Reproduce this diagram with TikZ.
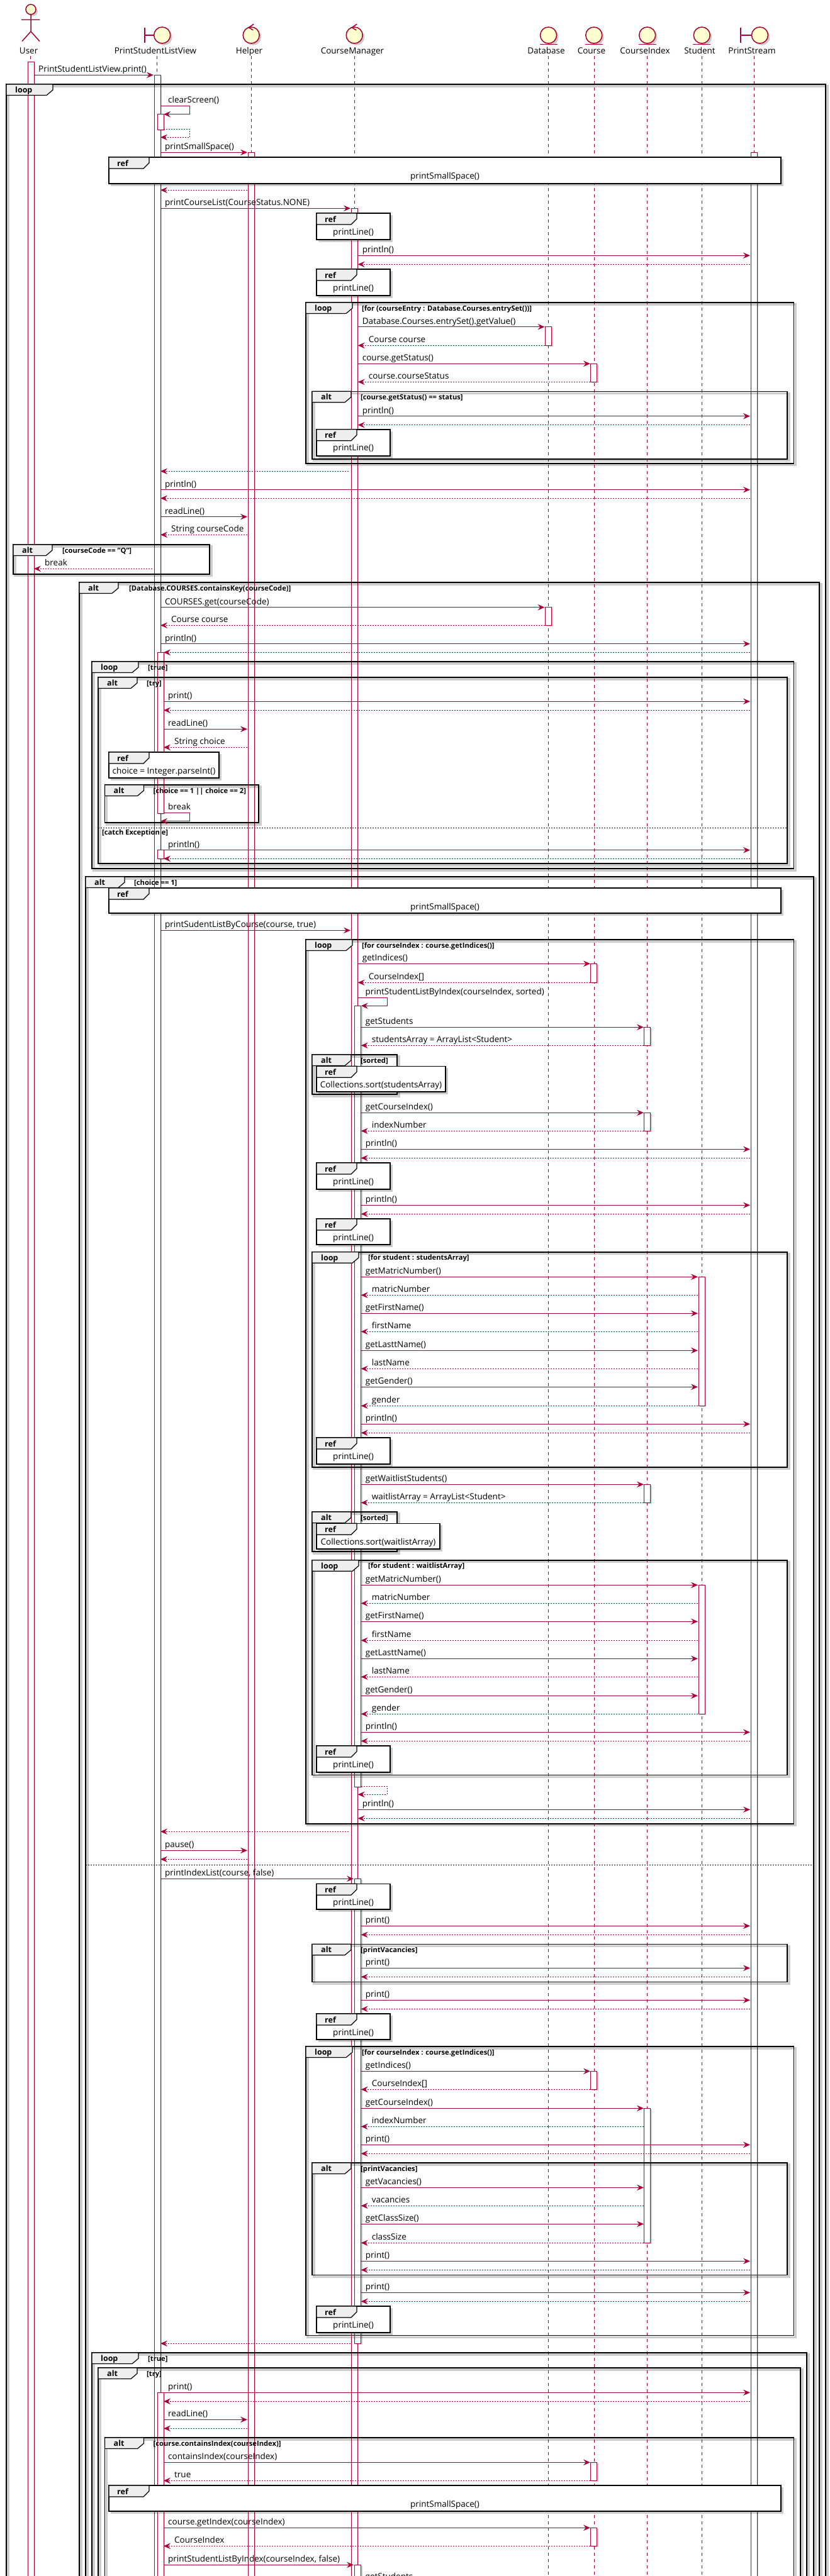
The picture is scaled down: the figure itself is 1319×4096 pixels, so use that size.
\documentclass[tikz,border=0pt]{standalone}
\usepackage{fontspec}
\setmainfont{Open Sans}
\usepackage{xcolor}
\usepackage{tikz}
\usetikzlibrary{arrows.meta, positioning}
\definecolor{seqline}{HTML}{A80036}
\definecolor{seqfill}{HTML}{FEFECE}
\definecolor{tabfill}{HTML}{EEEEEE}
\newcommand{\xu}{54}
\newcommand{\xv}{255}
\newcommand{\xvn}{260}
\newcommand{\xh}{393}
\newcommand{\xcl}{557}
\newcommand{\xcln}{562}
\newcommand{\xcm}{568.7}
\newcommand{\xcn}{573.7}
\newcommand{\xdb}{865.5}
\newcommand{\xco}{938}
\newcommand{\xci}{1023}
\newcommand{\xst}{1109}
\newcommand{\xps}{1192}
\newcounter{msgno}
\newcounter{barno}
\newcounter{frameno}
\newcommand{\callmsg}[4]{\stepcounter{msgno}%
  \coordinate (m\arabic{msgno}a) at (#1,#3);%
  \coordinate (m\arabic{msgno}b) at (#2,#3);%
  \draw[callarr] (m\arabic{msgno}a) -- (m\arabic{msgno}b);%
  \node[msglabel] (m\arabic{msgno}t) at (#1+7,#3-4.5) {#4};}
\newcommand{\retmsg}[4]{\stepcounter{msgno}%
  \coordinate (m\arabic{msgno}a) at (#1,#3);%
  \coordinate (m\arabic{msgno}b) at (#2,#3);%
  \draw[retarr] (m\arabic{msgno}a) -- (m\arabic{msgno}b);%
  \node[msglabel] (m\arabic{msgno}t) at (#2+17,#3-4.5) {#4};}
\newcommand{\ackmsg}[3]{\stepcounter{msgno}%
  \coordinate (m\arabic{msgno}a) at (#1,#3);%
  \coordinate (m\arabic{msgno}b) at (#2,#3);%
  \draw[retarr] (m\arabic{msgno}a) -- (m\arabic{msgno}b);}
\newcommand{\selfmsg}[6]{\stepcounter{msgno}%
  \coordinate (m\arabic{msgno}a) at (#2,#5);%
  \coordinate (m\arabic{msgno}b) at (#4,#6);%
  \draw[#1] (m\arabic{msgno}a) -- (#3,#5) -- (#3,#6) -- (m\arabic{msgno}b);}
\newcommand{\selflabel}[3]{\stepcounter{msgno}%
  \node[msglabel] (m\arabic{msgno}t) at (#1,#2-4.5) {#3};}
\newcommand{\actbar}[3]{\stepcounter{barno}%
  \coordinate (b\arabic{barno}a) at (#1-5,#2);%
  \coordinate (b\arabic{barno}b) at (#1+5,#3);%
  \fill[softshade] (#1-3,#2+2) rectangle (#1+7,#3+2);%
  \draw[barbox] (b\arabic{barno}a) rectangle (b\arabic{barno}b);}
\newcommand{\seqframe}[8]{\stepcounter{frameno}%
  \coordinate (f\arabic{frameno}a) at (#4,#5);%
  \coordinate (f\arabic{frameno}b) at (#6,#7);%
  \draw[frameshade] (#4+3,#5+3) rectangle (#6+3,#7+3);%
  \draw[framebox] (f\arabic{frameno}a) rectangle (f\arabic{frameno}b);%
  \draw[tabbox] (f\arabic{frameno}a) -- (#4+#3,#5) -- (#4+#3,#5+9) -- (#4+#3-10,#5+17.5) -- (#4,#5+17.5) -- cycle;%
  \node[tablabel] (f\arabic{frameno}t) at (#4+14,#5+13.5) {#1};%
  \node[condlabel] (f\arabic{frameno}c) at (#4+#3+#8,#5+13) {#2};}
\newcommand{\seqopen}[7]{\stepcounter{frameno}%
  \coordinate (f\arabic{frameno}a) at (#4,#5);%
  \coordinate (f\arabic{frameno}b) at (#6,4110);%
  \draw[frameshade] (#4+3,#5+3) rectangle (#6+3,4113);%
  \draw[framebox] (f\arabic{frameno}a) rectangle (f\arabic{frameno}b);%
  \draw[tabbox] (f\arabic{frameno}a) -- (#4+#3,#5) -- (#4+#3,#5+9) -- (#4+#3-10,#5+17.5) -- (#4,#5+17.5) -- cycle;%
  \node[tablabel] (f\arabic{frameno}t) at (#4+14,#5+13.5) {#1};%
  \node[condlabel] (f\arabic{frameno}c) at (#4+#3+#7,#5+13) {#2};}
\newcommand{\refbox}[5]{\stepcounter{frameno}%
  \coordinate (f\arabic{frameno}a) at (#1,#2);%
  \coordinate (f\arabic{frameno}b) at (#3,#4);%
  \fill[softshade] (#1+3,#2+3) rectangle (#3+4,#4+4);%
  \draw[framebox, fill=white] (f\arabic{frameno}a) rectangle (f\arabic{frameno}b);%
  \draw[tabbox] (f\arabic{frameno}a) -- (#1+64,#2) -- (#1+64,#2+9) -- (#1+55,#2+18) -- (#1,#2+18) -- cycle;%
  \node[tablabel] (f\arabic{frameno}t) at (#1+13,#2+14) {ref};%
  \node[msglabel, anchor=base] (f\arabic{frameno}c) at (#1/2+#3/2,#2+34) {#5};}
\begin{document}
\begin{tikzpicture}[
    x=1pt, y=-1pt,
    msglabel/.style={anchor=base west, inner sep=0pt, font=\fontsize{13.5}{15}\selectfont, text=black},
    headlabel/.style={anchor=base, inner sep=0pt, font=\fontsize{13.5}{15}\selectfont},
    tablabel/.style={anchor=base west, inner sep=0pt, font=\fontsize{12.5}{15}\selectfont\bfseries},
    condlabel/.style={anchor=base west, inner sep=0pt, font=\fontsize{11.2}{12}\selectfont\bfseries},
    callarr/.style={-{Stealth[length=11pt,width=9.5pt,inset=4pt]}, seqline, line width=1pt},
    retarr/.style={callarr, dash pattern=on 2pt off 2pt},
    lifeline/.style={seqline, line width=0.6pt, dash pattern=on 5pt off 5pt},
    barbox/.style={draw=seqline, fill=white, line width=0.7pt},
    softshade/.style={black, opacity=0.2},
    framebox/.style={black, line width=1.6pt},
    frameshade/.style={black, opacity=0.2, line width=3.5pt},
    tabbox/.style={draw=black, fill=tabfill, line width=1.2pt},
    elseline/.style={black, line width=0.8pt, dash pattern=on 2pt off 2pt},
    iconline/.style={draw=seqline, fill=seqfill, line width=1.5pt},
    iconshade/.style={black, opacity=0.2}
]
\fill[white] (0,0) rectangle (1319,4096);
\useasboundingbox (0,0) rectangle (1319,4096);

\foreach \lname/\lx/\tx/\ltext in {
    user/48.6/45.6/User,
    view/249.7/247/PrintStudentListView,
    helper/399.2/396/Helper,
    manager/563.2/560/CourseManager,
    database/871.6/868/Database,
    course/943.8/940/Course,
    index/1028.7/1025/CourseIndex,
    student/1115.3/1112/Student,
    stream/1198.2/1195/PrintStream}{
  \node[headlabel] (\lname) at (\tx,85) {\ltext};
  \coordinate (\lname top) at (\lx,89);
  \coordinate (\lname end) at (\lx,4096);
  \draw[lifeline] (\lname top) -- (\lname end);
}

\fill[iconshade] (52,18) circle (8pt);
\draw[seqline, line width=1.5pt, fill=seqfill] (49,15) circle (8pt);
\draw[seqline, line width=1.5pt] (49,23) -- (49,50) (34,31.3) -- (63.4,31.3) (35,65.7) -- (49,50) -- (63,65.7);
\foreach \cx/\bx in {257.7/230, 1207.5/1177}{
  \fill[iconshade] (\cx+3,59) circle (13pt);
  \draw[seqline, line width=1.5pt] (\bx,43.7) -- (\bx,68.3) (\bx,56) -- (\cx-13,56);
  \draw[iconline] (\cx,56) circle (13pt);
}
\foreach \cx in {399.2, 563.2}{
  \fill[iconshade] (\cx+3,59) circle (13pt);
  \draw[iconline] (\cx,56) circle (13pt);
  \draw[seqline, line width=1.5pt] (\cx+4,38.3) -- (\cx-4,43.7) -- (\cx+3,48);
}
\foreach \cx in {871.6, 943.8, 1028.7, 1115.3}{
  \fill[iconshade] (\cx+3,59) circle (13pt);
  \draw[iconline] (\cx,56) circle (13pt);
  \draw[seqline, line width=1.5pt] (\cx-14,70.7) -- (\cx+14,70.7);
}

\actbar{49}{98}{4110}
\actbar{250}{119.3}{4110}
\actbar{255}{181.7}{206.3}
\actbar{255}{1037.3}{1293.3}
\actbar{255}{1351.7}{1365.3}
\actbar{255}{3804.3}{4110}
\actbar{399.2}{242.3}{4110}
\actbar{1198.2}{242.3}{4110}
\actbar{563.2}{331.3}{4110}
\actbar{568.5}{1599.3}{2841}
\actbar{568.5}{2987.3}{3726.3}
\actbar{568.5}{4078.3}{4110}
\actbar{871.6}{519.3}{549.3}
\actbar{871.6}{965.3}{994.3}
\actbar{943.8}{578.3}{607.3}
\actbar{943.8}{1532.3}{1562.3}
\actbar{943.8}{3293.3}{3322.3}
\actbar{943.8}{3915.3}{3944.3}
\actbar{943.8}{4019.3}{4048.3}
\actbar{1028.7}{1633.3}{1662.3}
\actbar{1028.7}{1769.3}{1798.3}
\actbar{1028.7}{2360.3}{2389.3}
\actbar{1028.7}{3352.3}{3566.3}
\actbar{1115.3}{2030.3}{2235.3}
\actbar{1115.3}{2520.3}{2725.3}

\seqopen{loop}{}{74}{10}{134}{1312}{15}
\refbox{173}{250}{1241}{291.7}{printSmallSpace()}
\refbox{503}{339}{620}{380.7}{printLine()}
\refbox{503}{428}{620}{470}{printLine()}
\seqframe{loop}{[for (courseEntry : Database.Courses.entrySet())]}{74}{486}{481}{1261.5}{736.7}{15}
\seqframe{alt}{[course.getStatus() == status]}{62}{496}{622.3}{1251}{729.7}{15}
\refbox{503}{682.7}{620}{724.7}{printLine()}
\seqframe{alt}{[courseCode == "Q"]}{62}{21}{866}{333}{912.7}{16}
\seqopen{alt}{[Database.COURSES.containsKey(courseCode)]}{62}{126}{926}{1302}{17}
\seqframe{loop}{[true]}{74}{146}{1052}{1261.5}{1381}{15}
\seqframe{alt}{[try]}{62}{156}{1077}{1251}{1373}{15}
\refbox{173}{1196}{348}{1237}{choice = Integer.parseInt()}
\seqframe{alt}{[choice == 1 || choice == 2]}{62}{166.5}{1248}{411}{1308}{15}
\coordinate (catchL) at (156,1316.3);
\coordinate (catchR) at (1251,1316.3);
\draw[elseline] (catchL) -- (catchR);
\node[condlabel] (catchT) at (162,1327) {[catch Exception e]};
\seqopen{alt}{[choice == 1]}{62}{136}{1394}{1293}{15}
\refbox{173}{1412}{1241}{1452}{printSmallSpace()}
\seqframe{loop}{[for courseIndex : course.getIndices()]}{74}{486}{1494}{1261.5}{2899.7}{15}
\seqframe{alt}{[sorted]}{62}{496}{1677}{631}{1740}{15}
\refbox{503}{1695.3}{708}{1735.7}{Collections.sort(studentsArray)}
\refbox{503}{1849}{620}{1890.7}{printLine()}
\refbox{503}{1938}{620}{1979}{printLine()}
\seqframe{loop}{[for student : studentsArray]}{74}{496}{1990.7}{1251}{2332.7}{15}
\refbox{503}{2286}{620}{2327.7}{printLine()}
\seqframe{alt}{[sorted]}{62}{496}{2404}{631}{2467}{15}
\refbox{503}{2422.3}{699}{2462.7}{Collections.sort(waitlistArray)}
\seqframe{loop}{[for student : waitlistArray]}{74}{496}{2480.7}{1251}{2822.3}{15}
\refbox{503}{2776}{620}{2817.7}{printLine()}
\coordinate (elseL) at (136,2965.7);
\coordinate (elseR) at (1293,2965.7);
\draw[elseline] (elseL) -- (elseR);
\refbox{503}{2995.3}{620}{3035.7}{printLine()}
\seqframe{alt}{[printVacancies]}{62}{496}{3091.3}{1251}{3151.3}{15}
\refbox{503}{3202}{620}{3242.7}{printLine()}
\seqframe{loop}{[for courseIndex : course.getIndices()]}{74}{486}{3254}{1261.5}{3713.3}{15}
\seqframe{alt}{[printVacancies]}{62}{496}{3439}{1251}{3617.3}{15}
\refbox{503}{3667}{620}{3708.7}{printLine()}
\seqopen{loop}{[true]}{74}{146}{3741}{1282}{15}
\seqopen{alt}{[try]}{62}{156}{3765}{1272}{15}
\seqopen{alt}{[course.containsIndex(courseIndex)]}{62}{166.5}{3876}{1261.5}{15}
\refbox{173}{3952}{1241}{3993}{printSmallSpace()}

\callmsg{\xu}{244}{119.3}{PrintStudentListView.print()}
\selfmsg{callarr}{\xv}{301.6}{\xvn}{168.3}{181.7}
\selflabel{267}{168.3}{clearScreen()}
\selfmsg{retarr}{\xvn}{301.6}{\xv}{205.3}{218.3}
\callmsg{\xv}{\xh}{242.3}{printSmallSpace()}
\ackmsg{\xh}{\xv}{302.3}
\callmsg{\xv}{\xcl}{331.3}{printCourseList(CourseStatus.NONE)}
\callmsg{\xcm}{\xps}{406.3}{println()}
\ackmsg{\xps}{\xcm}{420.3}
\callmsg{\xcm}{\xdb}{519.7}{Database.Courses.entrySet().getValue()}
\retmsg{\xdb}{\xcm}{549.3}{Course course}
\callmsg{\xcm}{\xco}{578.3}{course.getStatus()}
\retmsg{\xco}{\xcm}{607.3}{course.courseStatus}
\callmsg{\xcm}{\xps}{661.7}{println()}
\ackmsg{\xps}{\xcm}{675.7}
\ackmsg{554}{\xv}{749.3}
\callmsg{\xv}{\xps}{778.7}{println()}
\ackmsg{\xps}{\xv}{792.3}
\callmsg{\xv}{\xh}{821.7}{readLine()}
\retmsg{\xh}{\xv}{850.3}{String courseCode}
\retmsg{241.7}{\xu}{904.3}{break}
\callmsg{\xv}{\xdb}{965.7}{COURSES.get(courseCode)}
\retmsg{\xdb}{\xv}{994.3}{Course course}
\callmsg{\xv}{\xps}{1023.7}{println()}
\ackmsg{\xps}{\xvn}{1037.3}
\callmsg{\xvn}{\xps}{1115.3}{print()}
\ackmsg{\xps}{\xvn}{1129.3}
\callmsg{\xvn}{\xh}{1159.3}{readLine()}
\retmsg{\xh}{\xvn}{1188.3}{String choice}
\selfmsg{callarr}{\xvn}{301.6}{\xv}{1292.3}{1305.7}
\selflabel{267}{1292.3}{break}
\callmsg{\xvn}{\xps}{1351.7}{println()}
\ackmsg{\xps}{\xvn}{1365.3}
\callmsg{\xv}{\xcl}{1479.3}{printSudentListByCourse(course, true)}
\callmsg{\xcm}{\xco}{1532.3}{getIndices()}
\retmsg{\xco}{\xcm}{1562.3}{CourseIndex[]}
\selfmsg{callarr}{\xcm}{615}{\xcn}{1586.3}{1599.3}
\selflabel{580.5}{1586.3}{printStudentListByIndex(courseIndex, sorted)}
\callmsg{\xcn}{\xci}{1633.3}{getStudents}
\retmsg{\xci}{\xcn}{1662.3}{studentsArray = ArrayList<Student>}
\callmsg{\xcn}{\xci}{1769.3}{getCourseIndex()}
\retmsg{\xci}{\xcn}{1798.3}{indexNumber}
\callmsg{\xcn}{\xps}{1827.3}{println()}
\ackmsg{\xps}{\xcn}{1841.3}
\callmsg{\xcn}{\xps}{1916.3}{println()}
\ackmsg{\xps}{\xcn}{1930.3}
\callmsg{\xcn}{\xst}{2030.3}{getMatricNumber()}
\retmsg{\xst}{\xcn}{2059.3}{matricNumber}
\callmsg{\xcn}{\xst}{2088.3}{getFirstName()}
\retmsg{\xst}{\xcn}{2117.3}{firstName}
\callmsg{\xcn}{\xst}{2147.3}{getLasttName()}
\retmsg{\xst}{\xcn}{2176.3}{lastName}
\callmsg{\xcn}{\xst}{2205.3}{getGender()}
\retmsg{\xst}{\xcn}{2235.3}{gender}
\callmsg{\xcn}{\xps}{2264.3}{println()}
\ackmsg{\xps}{\xcn}{2278.3}
\callmsg{\xcn}{\xci}{2360.3}{getWaitlistStudents()}
\retmsg{\xci}{\xcn}{2389.3}{waitlistArray = ArrayList<Student>}
\callmsg{\xcn}{\xst}{2520.3}{getMatricNumber()}
\retmsg{\xst}{\xcn}{2549.3}{matricNumber}
\callmsg{\xcn}{\xst}{2578.3}{getFirstName()}
\retmsg{\xst}{\xcn}{2608.3}{firstName}
\callmsg{\xcn}{\xst}{2637.3}{getLasttName()}
\retmsg{\xst}{\xcn}{2666.3}{lastName}
\callmsg{\xcn}{\xst}{2696.3}{getGender()}
\retmsg{\xst}{\xcn}{2725.3}{gender}
\callmsg{\xcn}{\xps}{2754.3}{println()}
\ackmsg{\xps}{\xcn}{2768.3}
\selfmsg{retarr}{\xcn}{615}{\xcm}{2840.3}{2853.3}
\callmsg{\xcm}{\xps}{2877.3}{println()}
\ackmsg{\xps}{\xcm}{2891.3}
\ackmsg{554}{\xv}{2912.3}
\callmsg{\xv}{\xh}{2942.3}{pause()}
\ackmsg{\xh}{\xv}{2956.3}
\callmsg{\xv}{\xcln}{2987.3}{printIndexList(course, false)}
\callmsg{\xcn}{\xps}{3062.3}{print()}
\ackmsg{\xps}{\xcn}{3076.3}
\callmsg{\xcn}{\xps}{3129.3}{print()}
\ackmsg{\xps}{\xcn}{3143.3}
\callmsg{\xcn}{\xps}{3180.3}{print()}
\ackmsg{\xps}{\xcn}{3194.3}
\callmsg{\xcn}{\xco}{3293.3}{getIndices()}
\retmsg{\xco}{\xcn}{3322.3}{CourseIndex[]}
\callmsg{\xcn}{\xci}{3352.3}{getCourseIndex()}
\retmsg{\xci}{\xcn}{3381.3}{indexNumber}
\callmsg{\xcn}{\xps}{3410.3}{print()}
\ackmsg{\xps}{\xcn}{3424.3}
\callmsg{\xcn}{\xci}{3478.3}{getVacancies()}
\retmsg{\xci}{\xcn}{3507.3}{vacancies}
\callmsg{\xcn}{\xci}{3536.3}{getClassSize()}
\retmsg{\xci}{\xcn}{3566.3}{classSize}
\callmsg{\xcn}{\xps}{3595.3}{print()}
\ackmsg{\xps}{\xcn}{3609.3}
\callmsg{\xcn}{\xps}{3645.3}{print()}
\ackmsg{\xps}{\xcn}{3659.3}
\ackmsg{\xcl}{\xv}{3726.3}
\callmsg{\xvn}{\xps}{3804.3}{print()}
\ackmsg{\xps}{\xvn}{3818.3}
\callmsg{\xvn}{\xh}{3847.3}{readLine()}
\ackmsg{\xh}{\xvn}{3861.3}
\callmsg{\xvn}{\xco}{3915.3}{containsIndex(courseIndex)}
\retmsg{\xco}{\xvn}{3944.3}{true}
\callmsg{\xvn}{\xco}{4019.3}{course.getIndex(courseIndex)}
\retmsg{\xco}{\xvn}{4048.3}{CourseIndex}
\callmsg{\xvn}{\xcln}{4078.3}{printStudentListByIndex(courseIndex, false)}
\selflabel{580.5}{4106}{getStudents}
\end{tikzpicture}
\end{document}
